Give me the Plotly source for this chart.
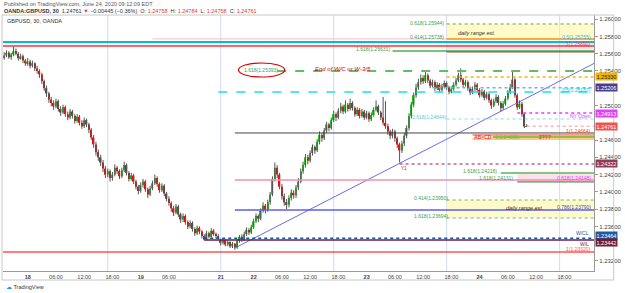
import plotly.graph_objects as go

# ---------------- data (30-minute GBPUSD bars, index 0 = 18 Jun 00:00) ----------------
bar_index = list(range(-10, 213))
opens = [
    1.2555, 1.2558, 1.2561, 1.2556, 1.2559, 1.2563, 1.2560, 1.2555, 1.2557, 1.2552,
    1.2549, 1.2551, 1.2546, 1.2549, 1.2543, 1.2540, 1.2536, 1.2528, 1.2520, 1.2514,
    1.2507, 1.2503, 1.2499, 1.2505, 1.2496, 1.2492, 1.2498, 1.2490, 1.2486, 1.2493,
    1.2488, 1.2482, 1.2487, 1.2480, 1.2476, 1.2483, 1.2478, 1.2472, 1.2463, 1.2455,
    1.2446, 1.2440, 1.2434, 1.2427, 1.2420, 1.2424, 1.2416, 1.2420, 1.2428, 1.2424,
    1.2418, 1.2425, 1.2431, 1.2422, 1.2415, 1.2419, 1.2412, 1.2406, 1.2401, 1.2408,
    1.2412, 1.2403, 1.2397, 1.2404, 1.2410, 1.2416, 1.2409, 1.2402, 1.2407, 1.2398,
    1.2392, 1.2387, 1.2381, 1.2376, 1.2383, 1.2374, 1.2368, 1.2372, 1.2365, 1.2360,
    1.2364, 1.2357, 1.2352, 1.2358, 1.2354, 1.2349, 1.2345, 1.2352, 1.2348, 1.2355,
    1.2351, 1.2349, 1.2344, 1.2341, 1.2344, 1.2339, 1.2342, 1.2337, 1.2340, 1.2336,
    1.2343, 1.2348, 1.2345, 1.2351, 1.2356, 1.2353, 1.2359, 1.2366, 1.2372, 1.2369,
    1.2378, 1.2384, 1.2379, 1.2388, 1.2397, 1.2415, 1.2428, 1.2420, 1.2406, 1.2395,
    1.2388, 1.2385, 1.2393, 1.2399, 1.2396, 1.2405, 1.2412, 1.2424, 1.2431, 1.2440,
    1.2436, 1.2445, 1.2452, 1.2448, 1.2458, 1.2466, 1.2462, 1.2471, 1.2478, 1.2474,
    1.2483, 1.2490, 1.2486, 1.2494, 1.2499, 1.2493, 1.2501, 1.2496, 1.2503, 1.2497,
    1.2490, 1.2495, 1.2488, 1.2493, 1.2486, 1.2491, 1.2484, 1.2489, 1.2495, 1.2499,
    1.2492, 1.2486, 1.2480, 1.2476, 1.2470, 1.2465, 1.2470, 1.2462, 1.2455, 1.2448,
    1.2456, 1.2465, 1.2474, 1.2488, 1.2501, 1.2512, 1.2521, 1.2527, 1.2532, 1.2528,
    1.2535, 1.2529, 1.2523, 1.2527, 1.2520, 1.2524, 1.2518, 1.2522, 1.2526, 1.2521,
    1.2516, 1.2519, 1.2524, 1.2529, 1.2535, 1.2530, 1.2524, 1.2527, 1.2520, 1.2515,
    1.2519, 1.2524, 1.2518, 1.2512, 1.2516, 1.2509, 1.2513, 1.2506, 1.2500, 1.2505,
    1.2510, 1.2503, 1.2497, 1.2502, 1.2508, 1.2515, 1.2521, 1.2530, 1.2512, 1.2498,
    1.2502, 1.2490, 1.24758,
]
highs = [
    1.2562, 1.2564, 1.2563, 1.2561, 1.2568, 1.2566, 1.2562, 1.2560, 1.2559, 1.2554,
    1.2555, 1.2553, 1.2552, 1.2550, 1.2546, 1.2542, 1.2538, 1.2530, 1.2523, 1.2516,
    1.2510, 1.2506, 1.2508, 1.2507, 1.2499, 1.2501, 1.2500, 1.2493, 1.2496, 1.2495,
    1.2490, 1.2490, 1.2489, 1.2483, 1.2486, 1.2485, 1.2480, 1.2474, 1.2466, 1.2458,
    1.2449, 1.2443, 1.2437, 1.2430, 1.2427, 1.2426, 1.2423, 1.2432, 1.2430, 1.2426,
    1.2428, 1.2435, 1.2433, 1.2424, 1.2422, 1.2421, 1.2414, 1.2408, 1.2411, 1.2415,
    1.2414, 1.2405, 1.2407, 1.2413, 1.2420, 1.2418, 1.2411, 1.2410, 1.2409, 1.2400,
    1.2395, 1.2389, 1.2384, 1.2386, 1.2385, 1.2376, 1.2375, 1.2374, 1.2367, 1.2367,
    1.2366, 1.2359, 1.2361, 1.2360, 1.2356, 1.2351, 1.2355, 1.2354, 1.2358, 1.2357,
    1.2353, 1.2351, 1.2346, 1.2346, 1.2345, 1.2344, 1.2343, 1.2342, 1.2341, 1.2345,
    1.2350, 1.2351, 1.2354, 1.2359, 1.2358, 1.2362, 1.2369, 1.2375, 1.2374, 1.2381,
    1.2388, 1.2386, 1.2391, 1.2400, 1.2418, 1.2434, 1.2431, 1.2422, 1.2409, 1.2398,
    1.2392, 1.2396, 1.2403, 1.2402, 1.2408, 1.2416, 1.2427, 1.2435, 1.2444, 1.2443,
    1.2448, 1.2455, 1.2454, 1.2461, 1.2470, 1.2468, 1.2474, 1.2481, 1.2480, 1.2486,
    1.2494, 1.2492, 1.2497, 1.2503, 1.2501, 1.2506, 1.2503, 1.2508, 1.2505, 1.2499,
    1.2498, 1.2497, 1.2496, 1.2495, 1.2494, 1.2493, 1.2492, 1.2498, 1.2506, 1.2501,
    1.2494, 1.2510, 1.2505, 1.2479, 1.2472, 1.2473, 1.2472, 1.2464, 1.2457, 1.2459,
    1.2468, 1.2477, 1.2491, 1.2504, 1.2515, 1.2525, 1.2531, 1.2536, 1.2535, 1.2539,
    1.2537, 1.2531, 1.2530, 1.2529, 1.2527, 1.2526, 1.2525, 1.2529, 1.2528, 1.2523,
    1.2522, 1.2527, 1.2532, 1.2538, 1.2543, 1.2532, 1.2530, 1.2529, 1.2522, 1.2522,
    1.2527, 1.2526, 1.2520, 1.2519, 1.2518, 1.2516, 1.2515, 1.2508, 1.2508, 1.2513,
    1.2512, 1.2505, 1.2505, 1.2511, 1.2518, 1.2525, 1.2541, 1.2532, 1.2514, 1.2506,
    1.2504, 1.2492, 1.24784,
]
lows = [
    1.2553, 1.2556, 1.2554, 1.2553, 1.2557, 1.2558, 1.2552, 1.2553, 1.2549, 1.2546,
    1.2546, 1.2543, 1.2544, 1.2540, 1.2537, 1.2532, 1.2525, 1.2517, 1.2510, 1.2503,
    1.2499, 1.2495, 1.2497, 1.2493, 1.2488, 1.2490, 1.2487, 1.2483, 1.2484, 1.2485,
    1.2479, 1.2480, 1.2477, 1.2473, 1.2474, 1.2475, 1.2468, 1.2460, 1.2451, 1.2442,
    1.2436, 1.2430, 1.2423, 1.2416, 1.2417, 1.2412, 1.2413, 1.2418, 1.2421, 1.2415,
    1.2416, 1.2423, 1.2419, 1.2412, 1.2413, 1.2409, 1.2403, 1.2397, 1.2399, 1.2405,
    1.2400, 1.2393, 1.2395, 1.2402, 1.2408, 1.2406, 1.2399, 1.2400, 1.2395, 1.2389,
    1.2384, 1.2377, 1.2372, 1.2374, 1.2371, 1.2364, 1.2365, 1.2362, 1.2357, 1.2358,
    1.2354, 1.2349, 1.2350, 1.2351, 1.2346, 1.2344, 1.2344, 1.2346, 1.2347, 1.2349,
    1.2346, 1.2345, 1.2338, 1.2339, 1.2337, 1.2337, 1.2335, 1.2335, 1.2333, 1.2334,
    1.2341, 1.2342, 1.2343, 1.2349, 1.2350, 1.2351, 1.2357, 1.2364, 1.2365, 1.2367,
    1.2376, 1.2375, 1.2377, 1.2385, 1.2395, 1.2412, 1.2416, 1.2403, 1.2391, 1.2384,
    1.2380, 1.2382, 1.2390, 1.2392, 1.2393, 1.2402, 1.2410, 1.2421, 1.2428, 1.2432,
    1.2434, 1.2442, 1.2444, 1.2446, 1.2455, 1.2458, 1.2460, 1.2468, 1.2470, 1.2472,
    1.2481, 1.2482, 1.2484, 1.2491, 1.2490, 1.2491, 1.2493, 1.2494, 1.2494, 1.2487,
    1.2488, 1.2485, 1.2486, 1.2483, 1.2484, 1.2481, 1.2482, 1.2487, 1.2493, 1.2489,
    1.2483, 1.2477, 1.2473, 1.2466, 1.2461, 1.2462, 1.2458, 1.2451, 1.2434, 1.2445,
    1.2453, 1.2462, 1.2471, 1.2485, 1.2498, 1.2509, 1.2518, 1.2524, 1.2525, 1.2526,
    1.2526, 1.2520, 1.2521, 1.2517, 1.2518, 1.2515, 1.2516, 1.2520, 1.2518, 1.2513,
    1.2514, 1.2517, 1.2522, 1.2527, 1.2527, 1.2521, 1.2522, 1.2517, 1.2512, 1.2513,
    1.2517, 1.2515, 1.2509, 1.2510, 1.2506, 1.2507, 1.2503, 1.2496, 1.2498, 1.2503,
    1.2500, 1.2493, 1.2495, 1.2500, 1.2506, 1.2513, 1.2519, 1.2509, 1.2495, 1.2496,
    1.2487, 1.2474, 1.24758,
]
closes = [
    1.2558, 1.2561, 1.2556, 1.2559, 1.2563, 1.2560, 1.2555, 1.2557, 1.2552, 1.2549,
    1.2551, 1.2546, 1.2549, 1.2543, 1.2540, 1.2536, 1.2528, 1.2520, 1.2514, 1.2507,
    1.2503, 1.2499, 1.2505, 1.2496, 1.2492, 1.2498, 1.2490, 1.2486, 1.2493, 1.2488,
    1.2482, 1.2487, 1.2480, 1.2476, 1.2483, 1.2478, 1.2472, 1.2463, 1.2455, 1.2446,
    1.2440, 1.2434, 1.2427, 1.2420, 1.2424, 1.2416, 1.2420, 1.2428, 1.2424, 1.2418,
    1.2425, 1.2431, 1.2422, 1.2415, 1.2419, 1.2412, 1.2406, 1.2401, 1.2408, 1.2412,
    1.2403, 1.2397, 1.2404, 1.2410, 1.2416, 1.2409, 1.2402, 1.2407, 1.2398, 1.2392,
    1.2387, 1.2381, 1.2376, 1.2383, 1.2374, 1.2368, 1.2372, 1.2365, 1.2360, 1.2364,
    1.2357, 1.2352, 1.2358, 1.2354, 1.2349, 1.2345, 1.2352, 1.2348, 1.2355, 1.2351,
    1.2349, 1.2346, 1.2341, 1.2344, 1.2339, 1.2342, 1.2337, 1.2340, 1.2336, 1.2343,
    1.2348, 1.2345, 1.2351, 1.2356, 1.2353, 1.2359, 1.2366, 1.2372, 1.2369, 1.2378,
    1.2384, 1.2379, 1.2388, 1.2397, 1.2415, 1.2428, 1.2420, 1.2406, 1.2395, 1.2388,
    1.2385, 1.2393, 1.2399, 1.2396, 1.2405, 1.2412, 1.2424, 1.2431, 1.2440, 1.2436,
    1.2445, 1.2452, 1.2448, 1.2458, 1.2466, 1.2462, 1.2471, 1.2478, 1.2474, 1.2483,
    1.2490, 1.2486, 1.2494, 1.2499, 1.2493, 1.2501, 1.2496, 1.2503, 1.2497, 1.2490,
    1.2495, 1.2488, 1.2493, 1.2486, 1.2491, 1.2484, 1.2489, 1.2495, 1.2499, 1.2492,
    1.2486, 1.2480, 1.2476, 1.2470, 1.2465, 1.2470, 1.2462, 1.2455, 1.2448, 1.2456,
    1.2465, 1.2474, 1.2488, 1.2501, 1.2512, 1.2521, 1.2527, 1.2532, 1.2528, 1.2535,
    1.2529, 1.2523, 1.2527, 1.2520, 1.2524, 1.2518, 1.2522, 1.2526, 1.2521, 1.2516,
    1.2519, 1.2524, 1.2529, 1.2535, 1.2530, 1.2524, 1.2527, 1.2520, 1.2515, 1.2519,
    1.2524, 1.2518, 1.2512, 1.2516, 1.2509, 1.2513, 1.2506, 1.2500, 1.2505, 1.2510,
    1.2503, 1.2497, 1.2502, 1.2508, 1.2515, 1.2521, 1.2530, 1.2512, 1.2498, 1.2502,
    1.2490, 1.24758, 1.24761,
]
assert len(opens) == len(highs) == len(lows) == len(closes) == len(bar_index)

tick_bars = [0, 12, 24, 36, 48, 60, 82, 96, 108, 120, 132, 144, 156, 168, 180, 192, 204, 216, 228]
tick_text = ["<b>18</b>", "06:00", "12:00", "18:00", "<b>19</b>", "06:00", "<b>21</b>", "<b>22</b>",
             "06:00", "12:00", "18:00", "<b>23</b>", "06:00", "12:00", "18:00", "<b>24</b>",
             "06:00", "12:00", "18:00"]
# price scale labels (those hidden under the price tags in the reference are left out)
price_ticks = [1.232, 1.236, 1.238, 1.240, 1.242, 1.244, 1.246,
               1.250, 1.254, 1.256, 1.258, 1.260]
session_breaks = [34, 82, 130, 178, 226]

trend_x = [88, 240.6]
trend_y = [1.2335, 1.25487]

# horizontal drawing levels
lvl_names = ["r618_top", "pink_thin", "range_orange", "cyan_full", "red_full", "g1618_top",
             "brown_box", "wc_dash", "yellow_dot", "blue_dot", "cyan_dash", "ny_open",
             "cyan_dot", "last_price", "dark_abcd", "red_abcd", "green_abcd", "orange_abcd",
             "y1_dot", "g1618_a", "pink_0618", "g1618_b", "g0414_dot", "blue_0786",
             "g1618_dot", "wcl", "wl", "red_low"]
lvl_prices = [1.25944, 1.25771, 1.25771, 1.25736, 1.25690, 1.25632,
              1.25620, 1.25400, 1.25331, 1.25206, 1.25157, 1.24913,
              1.24844, 1.24761, 1.24682, 1.24659, 1.24636, 1.24612,
              1.24323, 1.24219, 1.24138, 1.24115, 1.23906, 1.23790,
              1.23698, 1.23464, 1.23442, 1.23305]
lvl_from = [178, 53, 178, -10.5, -10.5, 155,
            178, 106, 178, 172, 81, 208,
            178, 212, 88, 189, 197.5, 189,
            158, 201, 88, 208, 178, 88,
            178, 75, 75, -10.5]

box_top = [1.25944, 1.25736, 1.24219, 1.23906]
box_bot = [1.25771, 1.25620, 1.24115, 1.23698]
box_from = [178, 178, 208, 178]

tag_prices = [1.25331, 1.25206, 1.24913, 1.24761, 1.24323, 1.23464, 1.23442]
tag_texts = ["1.25330", "1.25206", "1.24913", "1.24761", "1.24322", "1.23464", "1.23442"]

# ---------------- geometry ----------------
W, H = 625, 293
ML, MR, MT, MB = 3, 22, 15, 22
XR = [-10.5, 240.6]
YR = [1.23084, 1.26048]
PW, PH = W - ML - MR, H - MT - MB
FONT = "Liberation Sans, Arial, sans-serif"


def px_x(x):
    return (x - ML) / PW


def px_y(y):
    return (H - MB - y) / PH


styles = {
    "r618_top": ("#4caf50", 1, "dot"), "pink_thin": ("#f8bbd0", 1, "solid"),
    "range_orange": ("#ff9800", 1.5, "solid"), "cyan_full": ("#00bcd4", 2, "solid"),
    "red_full": ("#f23645", 1.5, "solid"), "g1618_top": ("#4caf50", 1.5, "solid"),
    "brown_box": ("#7b4a2a", 1, "solid"), "wc_dash": ("#66bb6a", 2, "dash"),
    "yellow_dot": ("#ffb300", 1.5, "dot"), "blue_dot": ("#64b5f6", 1.5, "dot"),
    "cyan_dash": ("#18e0f0", 1.5, "dash"), "ny_open": ("#e040fb", 1.5, "dot"),
    "cyan_dot": ("#80deea", 1, "dot"), "last_price": ("#ef9a9a", 1, "dot"),
    "dark_abcd": ("#444444", 1, "solid"), "red_abcd": ("#f44336", 1, "solid"),
    "green_abcd": ("#8bc34a", 2, "solid"), "orange_abcd": ("#ff9800", 1, "solid"),
    "y1_dot": ("#ad1457", 1, "dot"), "g1618_a": ("#81c784", 2, "solid"),
    "pink_0618": ("#f48fb1", 1.5, "solid"), "g1618_b": ("#2e7d32", 1, "solid"),
    "g0414_dot": ("#66bb6a", 1, "dot"), "blue_0786": ("#5c5cf0", 1.5, "solid"),
    "g1618_dot": ("#66bb6a", 1, "dot"), "wcl": ("#1a4f9c", 1.5, "dot"),
    "wl": ("#6d1b45", 1.5, "solid"), "red_low": ("#ff5252", 1.5, "solid"),
}

fig = go.Figure()

# boxes
box_cols = ["rgba(255,245,157,0.55)", "rgba(248,187,208,0.35)", "rgba(248,187,208,0.45)",
            "rgba(255,245,157,0.55)"]
for t, b, f, c in zip(box_top, box_bot, box_from, box_cols):
    fig.add_shape(type="rect", xref="x", yref="y", x0=f, x1=XR[1], y0=b, y1=t,
                  fillcolor=c, line_width=0, layer="below")

# session break verticals
for s in session_breaks:
    fig.add_shape(type="line", xref="x", yref="paper", x0=s, x1=s, y0=0, y1=1,
                  line=dict(color="#cfdcf2", width=1), layer="below")

# horizontal levels
for n, p, f in zip(lvl_names, lvl_prices, lvl_from):
    col, wdt, dsh = styles[n]
    fig.add_shape(type="line", xref="x", yref="y", x0=f, x1=XR[1], y0=p, y1=p,
                  line=dict(color=col, width=wdt, dash=dsh))

# trend line
fig.add_trace(go.Scatter(x=trend_x, y=trend_y, mode="lines",
                         line=dict(color="#6b6bf0", width=1), hoverinfo="skip"))

# wicks
wx, wy = [], []
for i, h, l in zip(bar_index, highs, lows):
    wx += [i, i, None]
    wy += [l, h, None]
fig.add_trace(go.Scatter(x=wx, y=wy, mode="lines", line=dict(color="#555555", width=1),
                         hoverinfo="skip"))

# bodies
base = [min(o, c) for o, c in zip(opens, closes)]
size = [max(abs(c - o), 0.00004) for o, c in zip(opens, closes)]
cols = ["#26c026" if c >= o else "#d01818" for o, c in zip(opens, closes)]
fig.add_trace(go.Bar(x=bar_index, y=size, base=base, width=0.62,
                     marker=dict(color=cols, line=dict(width=0)), hoverinfo="skip"))

# ellipse
fig.add_shape(type="circle", xref="paper", yref="paper", x0=px_x(242), x1=px_x(289),
              y0=px_y(77), y1=px_y(63), line=dict(color="#d50000", width=1.2))


def txt(s, x, y, color, size=5, anchor="left"):
    fig.add_annotation(text=s, x=px_x(x), y=px_y(y), xref="paper", yref="paper",
                       showarrow=False, xanchor=anchor, yanchor="middle",
                       font=dict(family=FONT, size=size, color=color))


G = "#43a047"
txt("0.618(1.25944)", 453, 23, G, anchor="right")
txt("<i>daily range ext.</i>", 484, 33, "#333333", 5.5, "center")
txt("0.414(1.25738)", 453, 37, G, anchor="right")
txt("0.5(1.25755)", 602, 37, "#29b6f6", anchor="right")
txt("1(1.25690)", 602, 44, "#f23645", anchor="right")
txt("1.618(1.25631)", 398, 49, G, anchor="right")
txt("1.618(1.25393)", 265, 70, G, 5, "center")
txt("<i>End of W/C or W-3/5</i>", 318, 69, "#d50000", 6)
txt("0.5(1.25157)", 602, 90, "#00c8e0", anchor="right")
txt("NY Open", 602, 116, "#e040fb", anchor="right")
txt("0.618(1.24844)", 455, 117, "#4dd0e1", anchor="right")
txt("1(1.24664)", 602, 131, "#f4511e", anchor="right")
txt("<b>AB=CD</b>", 490, 137, "#e53935", 5, "center")
txt("1(1.24685)", 515, 137, "#7cb342", 5, "center")
txt("<b>2???</b>", 553, 137, "#e53935", 5, "center")
txt("Y1", 410, 168, "#ad1457", 4.5, "center")
txt("1.618(1.24218)", 507, 171, G, anchor="right")
txt("1.618(1.24131)", 523, 178, G, anchor="right")
txt("0.618(1.24148)", 602, 178, "#e040fb", anchor="right")
txt("0.414(1.23950)", 418, 198, G)
txt("<i>daily range ext.</i>", 532, 208, "#333333", 5.5, "center")
txt("0.786(1.23790)", 602, 207, "#3f51b5", anchor="right")
txt("1.618(1.23694)", 418, 216, G)
txt("W/CL", 600, 233, "#1a4f9c", anchor="right")
txt("W/L", 600, 244, "#6d1b45", anchor="right")
txt("1(1.23320)", 602, 249, "#ff5252", anchor="right")

# header
txt("Published on TradingView.com, June 24, 2020 09:12:09 EDT", 2, 4, "#555555", 5.5)
R = "#e53935"
txt("<b>OANDA:GBPUSD, 30</b>  1.24761 <span style='color:%s'>▼</span> −0.00445 (−0.36%%)  "
    "O: <span style='color:%s'>1.24758</span>  H: <span style='color:%s'>1.24784</span>  "
    "L: <span style='color:%s'>1.24758</span>  C: <span style='color:%s'>1.24761</span>" % (R, R, R, R, R),
    2, 11, "#333333", 5.5)
txt("GBPUSD, 30, OANDA", 5, 21, "#333333", 5.5)
txt("<span style='color:#2196f3'>☁</span> TradingView", 4, 287, "#333333", 5.5)

# price tags on the scale
tag_bg = ["#f5b400", "#4a3d8f", "#e040fb", "#ef5350", "#8e3a59", "#1e5aa0", "#6d1c3c"]
tag_fg = ["#222222", "white", "white", "white", "white", "white", "white"]
tag_shift = [0, 0, 0, 0, 0, 2.5, -2.5]
for p, t, bg, fg, sh in zip(tag_prices, tag_texts, tag_bg, tag_fg, tag_shift):
    fig.add_annotation(text=t, x=1.0, y=p, xref="paper", yref="y", showarrow=False,
                       xanchor="left", yanchor="middle", xshift=1, yshift=sh, bgcolor=bg,
                       borderpad=0.5, font=dict(family=FONT, size=5.5, color=fg))

# outer frame
fig.add_shape(type="rect", xref="paper", yref="paper", x0=px_x(2), x1=px_x(623),
              y0=px_y(280), y1=px_y(15), line=dict(color="#c8c8c8", width=1))

fig.update_layout(
    width=W, height=H, margin=dict(l=ML, r=MR, t=MT, b=MB),
    paper_bgcolor="white", plot_bgcolor="white", showlegend=False,
    barmode="overlay", font=dict(family=FONT, size=5.5, color="#444"),
    xaxis=dict(range=XR, tickvals=tick_bars, ticktext=tick_text, showgrid=False,
               zeroline=False, showline=True, linecolor="#999", ticks="",
               tickfont=dict(size=5.5, color="#444"), fixedrange=True),
    yaxis=dict(range=YR, side="right", tickvals=price_ticks,
               ticktext=["%.5f" % p for p in price_ticks], showgrid=False,
               zeroline=False, showline=True, linecolor="#999", ticks="outside",
               ticklen=3, tickcolor="#999", tickfont=dict(size=6, color="#444"),
               fixedrange=True),
)

fig.write_html("out.html")
